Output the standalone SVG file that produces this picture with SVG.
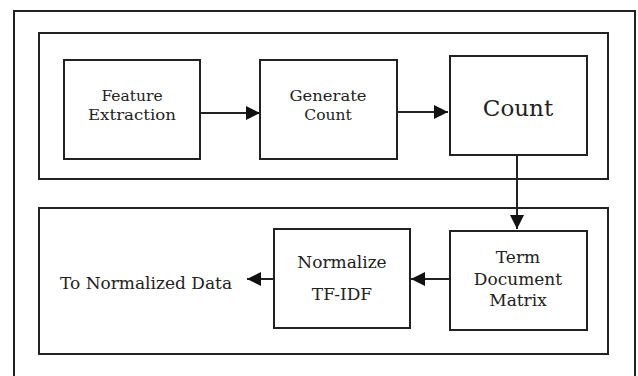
<svg xmlns="http://www.w3.org/2000/svg" width="638" height="376" viewBox="0 0 638 376">
<style>
.box{fill:#fff;stroke:#222;stroke-width:2}
.frame{fill:none;stroke:#222;stroke-width:2}
.lbl{font-family:"DejaVu Serif","Liberation Serif",serif;font-size:17px;fill:#222;text-anchor:middle}
.sm{font-size:15.5px}
.big{font-size:23px}
.con{stroke:#222;stroke-width:2;fill:none;marker-end:url(#ah)}
</style>
<defs>
<marker id="ah" markerUnits="userSpaceOnUse" markerWidth="15" markerHeight="14" refX="14" refY="7" orient="auto">
<path d="M0,0 L14,7 L0,14 Z" fill="#111"/>
</marker>
</defs>
<rect width="638" height="376" fill="#fff"/>
<rect class="frame" x="14" y="11" width="621" height="372"/>
<rect class="frame" x="39" y="33" width="569" height="146"/>
<rect class="frame" x="39" y="208" width="569" height="146"/>
<g id="feature-extraction">
<rect class="box" x="64" y="60" width="136" height="99"/>
<text class="lbl sm" x="132" y="101">Feature</text>
<text class="lbl sm" x="132" y="120" textLength="88" lengthAdjust="spacingAndGlyphs">Extraction</text>
</g>
<g id="generate-count">
<rect class="box" x="260" y="60" width="137" height="99"/>
<text class="lbl sm" x="328" y="101" textLength="77" lengthAdjust="spacingAndGlyphs">Generate</text>
<text class="lbl sm" x="328" y="120">Count</text>
</g>
<g id="count">
<rect class="box" x="450" y="56" width="137" height="99"/>
<text class="lbl big" x="518" y="116">Count</text>
</g>
<g id="term-document-matrix">
<rect class="box" x="450" y="231" width="137" height="99"/>
<text class="lbl" x="518" y="263">Term</text>
<text class="lbl" x="518" y="285">Document</text>
<text class="lbl" x="518" y="306">Matrix</text>
</g>
<g id="normalize-tfidf">
<rect class="box" x="274" y="229" width="136" height="99"/>
<text class="lbl" x="342" y="268">Normalize</text>
<text class="lbl" x="342" y="300">TF-IDF</text>
</g>
<g id="to-normalized-data">
<text class="lbl" x="146" y="289">To Normalized Data</text>
</g>
<g id="connectors">
<line class="con" x1="201" y1="113" x2="260" y2="113"/>
<line class="con" x1="398" y1="112" x2="448" y2="112"/>
<line class="con" x1="517" y1="156" x2="517" y2="229"/>
<line class="con" x1="449" y1="279" x2="411" y2="279"/>
<line class="con" x1="273" y1="279" x2="247" y2="279"/>
</g>
</svg>
